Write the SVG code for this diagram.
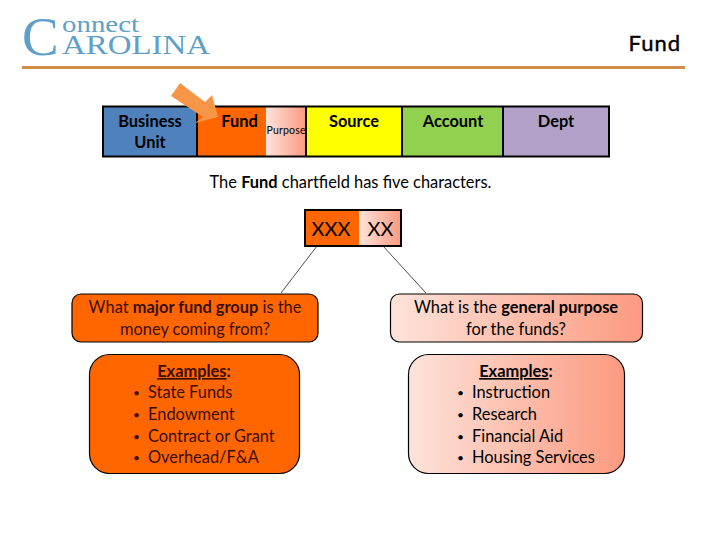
<svg xmlns="http://www.w3.org/2000/svg" width="720" height="540" viewBox="0 0 720 540">
<style>
text{font-family:Lato,"Open Sans",sans-serif;fill:#000;font-size:16.400px}
.m{text-anchor:middle}
.b{font-weight:700}
.logo{font-family:"Liberation Serif",serif;fill:#5f9fc8}
.box{stroke:#000;stroke-width:1.2}
.ln{stroke:#222;stroke-width:.8;fill:none}
.d{fill:#3a0f00}
.bul{font-size:12px}
</style>
<defs>
<linearGradient id="g"><stop offset="0" stop-color="#fde3da"/><stop offset="1" stop-color="#fc9a80"/></linearGradient>
</defs>
<rect width="720" height="540" fill="#fff"/>
<g id="logo">
<text class="logo" x="22" y="55" style="font-size:55px">C</text>
<text class="logo" x="62" y="32" style="font-size:24px" textLength="77" lengthAdjust="spacingAndGlyphs">onnect</text>
<text class="logo" x="62" y="54" style="font-size:28px" textLength="148" lengthAdjust="spacingAndGlyphs">AROLINA</text>
</g>
<g id="header">
<rect x="22" y="66" width="663" height="3" fill="#d08c48"/>
<text x="681" y="51" text-anchor="end" style="font-size:22px;stroke:#000;stroke-width:.4" letter-spacing="1">Fund</text>
</g>
<g id="fieldbar">
<g id="business-unit"><rect x="103" y="106.500" width="94" height="50" fill="#4f81bd"/><text class="m b" x="150" y="127">Business</text><text class="m b" x="150" y="148">Unit</text></g>
<g id="fund"><rect x="197" y="106.500" width="69" height="50" fill="#ff6600"/><text class="m b" x="239.500" y="127">Fund</text></g>
<g id="purpose"><rect x="266" y="106.500" width="40" height="50" fill="url(#g)"/><text x="266.500" y="134" style="font-size:10.500px" textLength="39">Purpose</text></g>
<g id="source"><rect x="306" y="106.500" width="96" height="50" fill="#ffff00"/><text class="m b" x="354" y="127">Source</text></g>
<g id="account"><rect x="402" y="106.500" width="101" height="50" fill="#92d050"/><text class="m b" x="453" y="127">Account</text></g>
<g id="dept"><rect x="503" y="106.500" width="106" height="50" fill="#b1a0c7"/><text class="m b" x="556" y="127">Dept</text></g>
<path d="M103 106.500H609V156.500H103ZM197 106.500V156.500M306 106.500V156.500M402 106.500V156.500M503 106.500V156.500" fill="none" stroke="#000" stroke-width="2"/>
</g>
<g id="arrow"><path d="M180 83L171 96L203 117L195 123L218 117L212 95L205 102Z" fill="#f79646"/></g>
<text id="caption" class="m" x="350.500" y="188">The <tspan class="b">Fund</tspan> chartfield has five characters.</text>
<g id="code">
<rect x="305" y="210" width="54" height="36" fill="#ff6600"/>
<rect x="359" y="210" width="42" height="36" fill="url(#g)"/>
<rect x="305" y="210" width="96" height="36" fill="none" stroke="#000" stroke-width="2"/>
<text class="m" x="331" y="236" style="font-size:20px">XXX</text>
<text class="m" x="380.500" y="236" style="font-size:20px">XX</text>
</g>
<g id="connectors">
<path class="ln" d="M317 246L281 293M383 246L426 293"/>
</g>
<g id="major-question">
<rect class="box" x="72" y="294" width="246" height="48" rx="9" fill="#ff6600"/>
<text class="m d" x="195" y="313">What <tspan class="b">major fund group</tspan> is the</text>
<text class="m d" x="195" y="335">money coming from?</text>
</g>
<g id="purpose-question">
<rect class="box" x="390.500" y="294" width="252" height="48" rx="9" fill="url(#g)"/>
<text class="m" x="516" y="313">What is the <tspan class="b">general purpose</tspan></text>
<text class="m" x="516" y="335">for the funds?</text>
</g>
<g id="major-examples">
<rect class="box" x="89.500" y="354.500" width="210" height="119" rx="20" fill="#ff6600"/>
<text class="m d b" x="194" y="377"><tspan text-decoration="underline">Examples</tspan>:</text>
<text class="d bul" x="133" y="397">•</text><text class="d" x="148" y="398">State Funds</text>
<text class="d bul" x="133" y="419">•</text><text class="d" x="148" y="420">Endowment</text>
<text class="d bul" x="133" y="441">•</text><text class="d" x="148" y="442">Contract or Grant</text>
<text class="d bul" x="133" y="462">•</text><text class="d" x="148" y="463">Overhead/F&amp;A</text>
</g>
<g id="purpose-examples">
<rect class="box" x="408.500" y="354.500" width="216" height="119" rx="20" fill="url(#g)"/>
<text class="m b" x="516" y="377"><tspan text-decoration="underline">Examples</tspan>:</text>
<text class="bul" x="457" y="397">•</text><text x="472" y="398">Instruction</text>
<text class="bul" x="457" y="419">•</text><text x="472" y="420">Research</text>
<text class="bul" x="457" y="441">•</text><text x="472" y="442">Financial Aid</text>
<text class="bul" x="457" y="462">•</text><text x="472" y="463">Housing Services</text>
</g>
</svg>
